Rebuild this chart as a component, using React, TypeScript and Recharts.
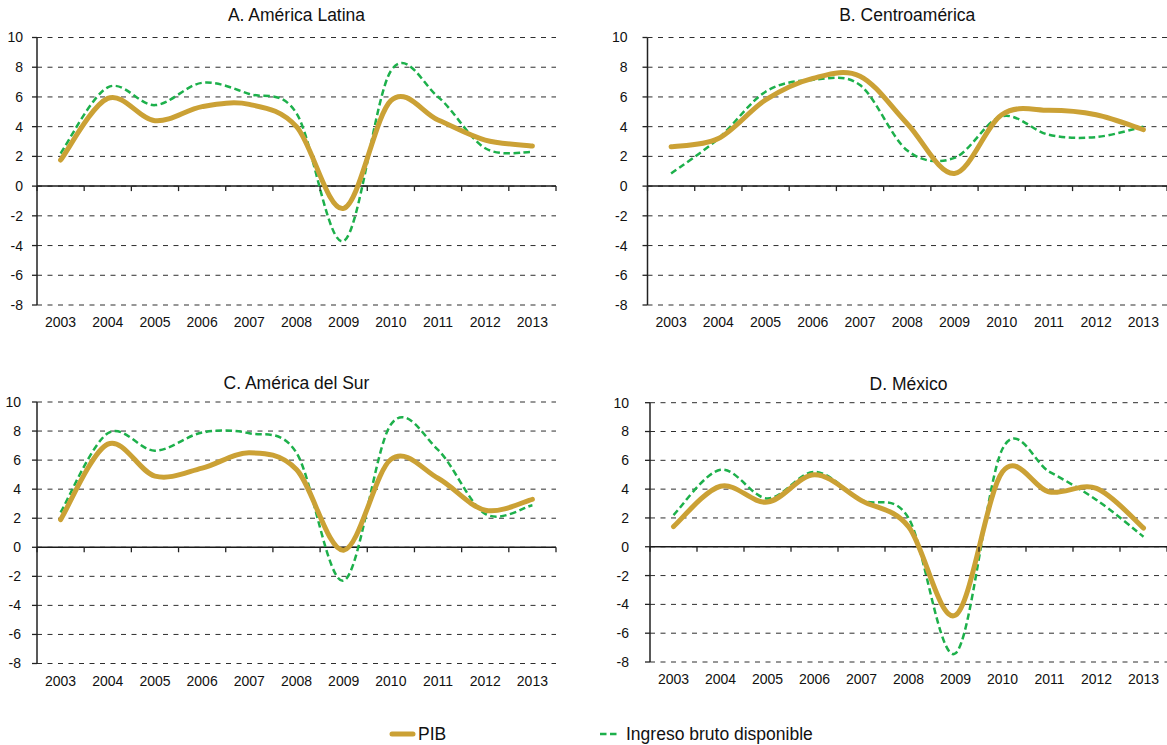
import { LineChart, Line, XAxis, YAxis, CartesianGrid, ReferenceLine } from "recharts";

// years on the category axis
const years = ["2003", "2004", "2005", "2006", "2007", "2008", "2009", "2010", "2011", "2012", "2013"];
const yTicks = [-8, -6, -4, -2, 0, 2, 4, 6, 8, 10];

// tasas de variación anual (%)
const pibAL = [1.75, 5.9, 4.4, 5.35, 5.5, 4.0, -1.5, 5.75, 4.45, 3.1, 2.7];
const ibdAL = [2.2, 6.65, 5.45, 6.95, 6.2, 4.9, -3.7, 7.75, 6.0, 2.55, 2.3];
const pibCA = [2.65, 3.2, 5.8, 7.25, 7.4, 4.2, 0.85, 4.8, 5.1, 4.8, 3.8];
const ibdCA = [0.85, 3.2, 6.35, 7.15, 6.8, 2.4, 1.9, 4.7, 3.45, 3.3, 4.0];
const pibAS = [1.9, 7.1, 4.9, 5.45, 6.5, 5.35, -0.2, 6.05, 4.75, 2.55, 3.3];
const ibdAS = [2.4, 7.85, 6.65, 7.9, 7.85, 6.5, -2.3, 8.45, 6.7, 2.3, 2.9];
const pibMX = [1.4, 4.2, 3.1, 5.0, 3.2, 1.4, -4.75, 5.2, 3.8, 4.05, 1.3];
const ibdMX = [2.2, 5.35, 3.35, 5.2, 3.25, 2.0, -7.4, 6.8, 5.2, 3.25, 0.7];

const GOLD = "#CBA135";
const GREEN = "#1DB04B";
const FONT = "'Liberation Sans', Arial, sans-serif";

// Excel-like smoothed line (uniform Catmull-Rom as cubic beziers)
const excelSmooth = (context: any) => {
  let pts: number[][] = [];
  return {
    areaStart() {},
    areaEnd() {},
    lineStart() { pts = []; },
    point(x: number, y: number) { pts.push([+x, +y]); },
    lineEnd() {
      const n = pts.length;
      if (!n) return;
      context.moveTo(pts[0][0], pts[0][1]);
      for (let i = 0; i < n - 1; i++) {
        const p0 = pts[i > 0 ? i - 1 : i];
        const p1 = pts[i];
        const p2 = pts[i + 1];
        const p3 = pts[i + 2 < n ? i + 2 : i + 1];
        context.bezierCurveTo(
          p1[0] + (p2[0] - p0[0]) / 6, p1[1] + (p2[1] - p0[1]) / 6,
          p2[0] - (p3[0] - p1[0]) / 6, p2[1] - (p3[1] - p1[1]) / 6,
          p2[0], p2[1],
        );
      }
    },
  };
};

type PanelProps = {
  title: string;
  pib: number[];
  ibd: number[];
  box: { L: number; T: number; W: number; H: number };
  plot: { l: number; t: number; r: number; b: number };
  titleY: number;
  tickMargin: number;
};

function Panel({ title, pib, ibd, box, plot, titleY, tickMargin }: PanelProps) {
  const data = years.map((y, i) => ({ year: y, pib: pib[i], ibd: ibd[i] }));
  const plotW = plot.r - plot.l;
  const plotH = plot.b - plot.t;
  const catW = plotW / years.length;
  const top = plot.t - box.T;
  const zeroY = top + (plotH * 10) / 18;
  const bottom = plot.b - box.T;

  const XTick = (props: any) => {
    const { x, payload, index } = props;
    return (
      <g>
        <text x={x} y={bottom + 22} textAnchor="middle" fontSize={14} fill="#111" fontFamily={FONT}>
          {payload.value}
        </text>
        <line x1={x + catW / 2} x2={x + catW / 2} y1={zeroY} y2={zeroY + 5} stroke="#222" strokeWidth={1.3} />
        {index === 0 && (
          <line x1={x - catW / 2} x2={x - catW / 2} y1={zeroY} y2={zeroY + 5} stroke="#222" strokeWidth={1.3} />
        )}
      </g>
    );
  };

  return (
    <div style={{ position: "absolute", left: box.L, top: box.T, width: box.W, height: box.H }}>
      <div
        style={{
          position: "absolute", left: plot.l - box.L - 60, width: plotW + 120, top: titleY - box.T - 11,
          textAlign: "center", fontSize: 17.5, color: "#111", fontFamily: FONT, lineHeight: "22px",
        }}
      >
        {title}
      </div>
      <LineChart
        width={box.W}
        height={box.H}
        data={data}
        margin={{ top, right: box.L + box.W - plot.r, bottom: 0, left: 0 }}
        style={{ position: "absolute", left: 0, top: 0 }}
      >
        <CartesianGrid vertical={false} stroke="#2e2e2e" strokeDasharray="5 5.5" strokeWidth={1} />
        <XAxis
          dataKey="year"
          height={box.T + box.H - plot.b}
          padding={{ left: catW / 2, right: catW / 2 }}
          axisLine={false}
          tickLine={false}
          interval={0}
          tick={XTick}
        />
        <YAxis
          width={plot.l - box.L}
          domain={[-8, 10]}
          ticks={yTicks}
          interval={0}
          allowDataOverflow
          axisLine={{ stroke: "#222", strokeWidth: 1.5 }}
          tickLine={{ stroke: "#222", strokeWidth: 1.3 }}
          tickSize={5}
          tickMargin={tickMargin}
          tick={{ fontSize: 14, fill: "#111", fontFamily: FONT }}
        />
        <ReferenceLine y={0} stroke="#1a1a1a" strokeWidth={1.5} />
        <Line
          dataKey="ibd"
          type={excelSmooth as any}
          stroke={GREEN}
          strokeWidth={2.5}
          strokeDasharray="6.5 3.5"
          dot={false}
          activeDot={false}
          isAnimationActive={false}
        />
        <Line
          dataKey="pib"
          type={excelSmooth as any}
          stroke={GOLD}
          strokeWidth={5}
          strokeLinecap="round"
          strokeLinejoin="round"
          dot={false}
          activeDot={false}
          isAnimationActive={false}
        />
      </LineChart>
    </div>
  );
}

export default function App() {
  return (
    <div
      style={{
        position: "absolute", left: 0, top: 0, width: 1167, height: 745,
        background: "#fff", overflow: "hidden", fontFamily: FONT,
      }}
    >
      <Panel
        title="A. América Latina" pib={pibAL} ibd={ibdAL}
        box={{ L: 0, T: 0, W: 580, H: 340 }} plot={{ l: 37, t: 37.5, r: 556, b: 305 }}
        titleY={15} tickMargin={9}
      />
      <Panel
        title="B. Centroamérica" pib={pibCA} ibd={ibdCA}
        box={{ L: 580, T: 0, W: 587, H: 340 }} plot={{ l: 647.5, t: 37.5, r: 1167, b: 305 }}
        titleY={15} tickMargin={15}
      />
      <Panel
        title="C. América del Sur" pib={pibAS} ibd={ibdAS}
        box={{ L: 0, T: 345, W: 580, H: 345 }} plot={{ l: 37, t: 402, r: 556, b: 663.5 }}
        titleY={383} tickMargin={11}
      />
      <Panel
        title="D. México" pib={pibMX} ibd={ibdMX}
        box={{ L: 580, T: 345, W: 587, H: 345 }} plot={{ l: 650, t: 402.7, r: 1167, b: 662 }}
        titleY={384} tickMargin={16}
      />
      <svg width={1167} height={30} style={{ position: "absolute", left: 0, top: 720 }}>
        <line x1={392} x2={413} y1={14} y2={14} stroke={GOLD} strokeWidth={5} strokeLinecap="round" />
        <text x={418} y={14} dy="0.355em" fontSize={17.5} fill="#111" fontFamily={FONT}>PIB</text>
        <line x1={600} x2={619} y1={14} y2={14} stroke={GREEN} strokeWidth={2.5} strokeDasharray="6.5 3.5" />
        <text x={626} y={14} dy="0.355em" fontSize={17.5} fill="#111" fontFamily={FONT}>Ingreso bruto disponible</text>
      </svg>
    </div>
  );
}
